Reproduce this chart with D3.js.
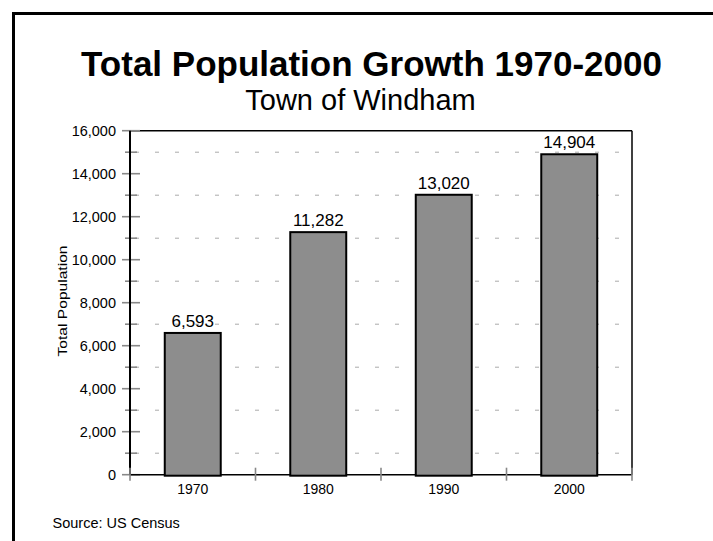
<!DOCTYPE html>
<html>
<head>
<meta charset="utf-8">
<script src="https://cdn.jsdelivr.net/npm/d3@7"></script>
<style>
  html, body { margin: 0; padding: 0; background: #fff; }
  svg { display: block; font-family: "Liberation Sans", Helvetica, Arial, sans-serif; }
</style>
</head>
<body>
<svg id="chart" width="713" height="541"></svg>
<script>
// Census population counts for the Town of Windham
const years = ["1970", "1980", "1990", "2000"];
const population = [6593, 11282, 13020, 14904];
const majorTicks = [0, 2000, 4000, 6000, 8000, 10000, 12000, 14000, 16000];
const minorTicks = [1000, 3000, 5000, 7000, 9000, 11000, 13000, 15000];

const titleText = "Total Population Growth 1970-2000";
const subtitleText = "Town of Windham";
const yAxisTitle = "Total Population";
const sourceText = "Source: US Census";

const svg = d3.select("#chart");
const plot = { left: 130, right: 632, top: 130.7, bottom: 474.7 };

const x = d3.scaleBand()
  .domain(years)
  .range([plot.left, plot.right])
  .paddingInner(0.554)
  .paddingOuter(0.277);

const y = d3.scaleLinear()
  .domain([0, 16000])
  .range([plot.bottom, plot.top]);

const fmt = d3.format(",");

// page frame (runs off the right and bottom edges)
svg.append("rect")
  .attr("x", 13.5).attr("y", 13.5)
  .attr("width", 800).attr("height", 600)
  .attr("fill", "none").attr("stroke", "#000").attr("stroke-width", 3);

// titles
svg.append("text")
  .attr("x", 371.5).attr("y", 76)
  .attr("text-anchor", "middle")
  .attr("font-size", 35).attr("font-weight", "bold")
  .text(titleText);

svg.append("text")
  .attr("x", 360.5).attr("y", 110)
  .attr("text-anchor", "middle")
  .attr("font-size", 29)
  .text(subtitleText);

// dashed gridlines at the minor ticks
svg.append("g")
  .selectAll("line")
  .data(minorTicks)
  .join("line")
  .attr("x1", plot.left).attr("x2", plot.right)
  .attr("y1", d => y(d)).attr("y2", d => y(d))
  .attr("stroke", "#aaa").attr("stroke-width", 1)
  .attr("stroke-dasharray", "4,16")
  .attr("stroke-dashoffset", -5);

// plot frame: top and right edges
svg.append("line")
  .attr("x1", plot.left).attr("x2", plot.right)
  .attr("y1", plot.top).attr("y2", plot.top)
  .attr("stroke", "#000").attr("stroke-width", 1.5);
svg.append("line")
  .attr("x1", plot.right).attr("x2", plot.right)
  .attr("y1", plot.top).attr("y2", plot.bottom)
  .attr("stroke", "#000").attr("stroke-width", 1.5);

// y axis with major labelled ticks
const yAxis = d3.axisLeft(y)
  .tickValues(majorTicks)
  .tickFormat(fmt)
  .tickSize(0)
  .tickPadding(14);
const gy = svg.append("g")
  .attr("transform", `translate(${plot.left},0)`)
  .call(yAxis);
gy.select(".domain").remove();
gy.selectAll("text")
  .attr("font-size", 14.5)
  .attr("font-family", "Liberation Sans, Helvetica, Arial, sans-serif")
  .attr("fill", "#000");

// tick marks crossing the y axis
svg.append("g").selectAll("line")
  .data(majorTicks)
  .join("line")
  .attr("x1", plot.left - 8).attr("x2", plot.left + 10)
  .attr("y1", d => y(d)).attr("y2", d => y(d))
  .attr("stroke", "#888").attr("stroke-width", 1.6);
svg.append("g").selectAll("line")
  .data(minorTicks)
  .join("line")
  .attr("x1", plot.left - 5).attr("x2", plot.left + 7)
  .attr("y1", d => y(d)).attr("y2", d => y(d))
  .attr("stroke", "#888").attr("stroke-width", 1.6);

// y axis line
svg.append("line")
  .attr("x1", plot.left).attr("x2", plot.left)
  .attr("y1", plot.top).attr("y2", plot.bottom)
  .attr("stroke", "#000").attr("stroke-width", 2);

// x axis baseline
svg.append("line")
  .attr("x1", plot.left).attr("x2", plot.right)
  .attr("y1", plot.bottom).attr("y2", plot.bottom)
  .attr("stroke", "#000").attr("stroke-width", 1.5);

// category boundary ticks on the x axis
const step = x.step();
const boundaries = d3.range(years.length + 1).map(i => plot.left + i * step);
svg.append("g").selectAll("line")
  .data(boundaries)
  .join("line")
  .attr("x1", d => d).attr("x2", d => d)
  .attr("y1", plot.bottom - 7).attr("y2", plot.bottom + 6)
  .attr("stroke", "#888").attr("stroke-width", 1.6);

// x axis labels
const xAxis = d3.axisBottom(x).tickSize(0).tickPadding(9);
const gx = svg.append("g")
  .attr("transform", `translate(0,${plot.bottom})`)
  .call(xAxis);
gx.select(".domain").remove();
gx.selectAll("text")
  .attr("font-size", 14)
  .attr("font-family", "Liberation Sans, Helvetica, Arial, sans-serif")
  .attr("fill", "#000");

// bars
const data = years.map((yr, i) => ({ year: yr, value: population[i] }));
svg.append("g").selectAll("rect")
  .data(data)
  .join("rect")
  .attr("x", d => x(d.year))
  .attr("y", d => y(d.value))
  .attr("width", x.bandwidth())
  .attr("height", d => y(0) - y(d.value) + 1)
  .attr("fill", "#8d8d8d")
  .attr("stroke", "#000")
  .attr("stroke-width", 2);

// value labels
svg.append("g").selectAll("text")
  .data(data)
  .join("text")
  .attr("x", d => x(d.year) + x.bandwidth() / 2)
  .attr("y", d => y(d.value) - 6)
  .attr("text-anchor", "middle")
  .attr("font-size", 17)
  .text(d => fmt(d.value));

// y axis title
svg.append("text")
  .attr("transform", "translate(67,301) rotate(-90)")
  .attr("text-anchor", "middle")
  .attr("font-size", 13)
  .attr("textLength", 111)
  .attr("lengthAdjust", "spacingAndGlyphs")
  .text(yAxisTitle);

// source note
svg.append("text")
  .attr("x", 52.5).attr("y", 528.3)
  .attr("font-size", 14.5)
  .text(sourceText);
</script>
</body>
</html>
